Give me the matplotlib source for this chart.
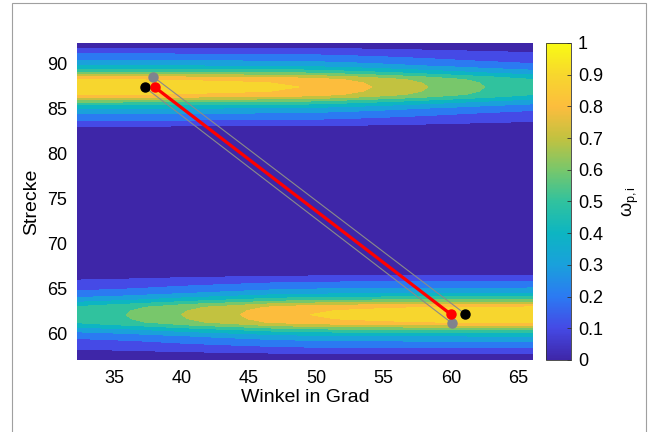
import numpy as np
import matplotlib
matplotlib.use('Agg')
import matplotlib.pyplot as plt
from matplotlib.colors import LinearSegmentedColormap, Normalize
from matplotlib.cm import ScalarMappable
from matplotlib.patches import Rectangle

plt.rcParams['font.family'] = ['Liberation Sans', 'DejaVu Sans']
plt.rcParams['mathtext.fontset'] = 'custom'
plt.rcParams['mathtext.rm'] = 'Liberation Sans'
plt.rcParams['mathtext.it'] = 'Liberation Sans'

# Amplitude of both bands along the angle axis (read at the contour crossings)
angle = [32.2, 34.0, 35.9, 38.0, 40.0, 42.2, 44.4, 46.6, 48.7, 49.6,
         51.5, 54.1, 56.2, 58.3, 60.4, 62.5, 64.3, 66.1]
amp_top = [0.95, 0.95, 0.948, 0.945, 0.94, 0.933, 0.925, 0.914, 0.90, 0.89,
           0.855, 0.80, 0.75, 0.70, 0.65, 0.60, 0.565, 0.53]
amp_bot = [0.54, 0.57, 0.60, 0.65, 0.70, 0.75, 0.80, 0.855, 0.89, 0.90,
           0.915, 0.93, 0.94, 0.948, 0.952, 0.955, 0.957, 0.96]

# Vertical band profile (offset from band centre -> relative weight)
offset = [0.0, 0.45, 0.83, 1.15, 1.39, 1.67, 2.0, 2.37, 2.95, 3.7, 4.35, 5.0]
profile = [1.0, 0.985, 0.947, 0.842, 0.737, 0.632, 0.526, 0.421, 0.316, 0.21,
           0.105, 0.0]
center_top = 87.42
center_bot = 62.05

# Route points
red_angle = [38.02, 59.99]
red_strecke = [87.41, 62.11]
black_angle = [37.27, 61.08]
black_strecke = [87.41, 62.11]
gray_angle = [37.89, 60.11]
gray_strecke = [88.59, 61.07]

# parula-like colormap
parula_colors = [(0.243, 0.149, 0.659), (0.27, 0.29, 0.90), (0.17, 0.48, 0.95),
                 (0.10, 0.63, 0.86), (0.05, 0.71, 0.76), (0.19, 0.76, 0.62),
                 (0.47, 0.78, 0.42), (0.76, 0.76, 0.25), (0.99, 0.74, 0.24),
                 (0.97, 0.84, 0.18), (0.976, 0.984, 0.08)]
parula = LinearSegmentedColormap.from_list('parula', parula_colors)

# build the field table
off = np.array(offset)
prof = np.array(profile)
side_off = np.concatenate([-off[::-1], off[1:]])
side_val = np.concatenate([prof[::-1], prof[1:]])
zeros = np.zeros(len(side_off))
y_rows = np.concatenate([[56.0], center_bot + side_off, center_top + side_off, [93.0]])
g_bot = np.concatenate([[0], side_val, zeros, [0]])
g_top = np.concatenate([[0], zeros, side_val, [0]])
Z = np.outer(g_top, amp_top) + np.outer(g_bot, amp_bot)

fig = plt.figure(figsize=(6.48, 4.32), dpi=100)
ax = fig.add_axes([0.1188, 0.1667, 0.7037, 0.7338])
cax = fig.add_axes([0.8426, 0.1667, 0.0386, 0.7338])

levels = np.linspace(0, 1, 11)
ax.contourf(angle, y_rows, Z, levels=levels, colors=parula_colors[:10])

# thin outline of the corridor
ax.plot([gray_angle[0], black_angle[1]], [gray_strecke[0], black_strecke[1]],
        color='#8a8a8a', lw=0.8)
ax.plot([black_angle[0], gray_angle[1]], [black_strecke[0], gray_strecke[1]],
        color='#8a8a8a', lw=0.8)
ax.plot(red_angle, red_strecke, color='red', lw=2.3)
ax.plot(black_angle, black_strecke, 'o', color='black', ms=6.5, ls='none')
ax.plot(gray_angle, gray_strecke, 'o', color='#7f838e', ms=6.5, ls='none')
ax.plot(red_angle, red_strecke, 'o', color='red', ms=6.5, ls='none')

ax.set_xlim(32.25, 66.1)
ax.set_ylim(57.0, 92.33)
ax.set_xticks(range(35, 66, 5))
ax.set_yticks(range(60, 91, 5))
ax.tick_params(length=0, labelsize=13, pad=7)
for s in ax.spines.values():
    s.set_visible(False)
ax.set_xlabel('Winkel in Grad', fontsize=14, labelpad=2)
ax.set_ylabel('Strecke', fontsize=14, labelpad=5)

cb = fig.colorbar(ScalarMappable(norm=Normalize(0, 1), cmap=parula), cax=cax,
                  ticks=levels)
cb.ax.set_yticklabels(['%g' % t for t in levels])
cb.ax.tick_params(labelsize=13, direction='in', length=3, width=0.6,
                  color='#333333', pad=5)
cb.outline.set_linewidth(0.6)
cb.outline.set_edgecolor('#333333')
cb.set_label(r'$\omega_{\mathrm{p,i}}$', fontsize=13, labelpad=12)

fig.patches.append(Rectangle((12 / 648, -0.1), 634 / 648, 1.1 - 3 / 432,
                             transform=fig.transFigure, fill=False,
                             edgecolor='#a0a0a0', lw=0.8))

fig.savefig('out.png', dpi=100)
